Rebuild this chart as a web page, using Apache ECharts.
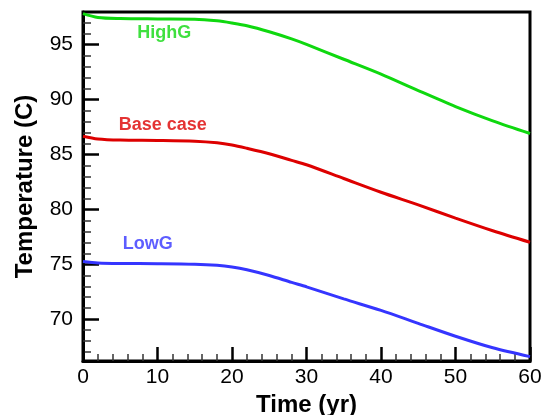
<!DOCTYPE html>
<html>
<head>
<meta charset="utf-8">
<script src="https://cdn.jsdelivr.net/npm/echarts@6/dist/echarts.min.js"></script>
<style>
  html, body { margin: 0; padding: 0; background: #fff; }
  #chart { width: 543px; height: 415px; }
</style>
</head>
<body>
<div id="chart"></div>
<script>
// Time axis (yr)
const years = [0, 2, 5, 10, 15, 18, 20, 22, 25, 28, 30, 35, 40, 45, 50, 55, 60];

// Temperature (C) for each case
const highG = [97.8, 97.45, 97.35, 97.32, 97.3, 97.15, 96.95, 96.7, 96.15, 95.5, 95.0, 93.65, 92.3, 90.8, 89.35, 88.05, 86.9];
const baseCase = [86.65, 86.4, 86.3, 86.27, 86.2, 86.05, 85.85, 85.55, 85.05, 84.45, 84.05, 82.8, 81.55, 80.4, 79.2, 78.05, 77.0];
const lowG = [75.25, 75.12, 75.07, 75.05, 75.0, 74.9, 74.75, 74.5, 73.98, 73.35, 72.95, 71.85, 70.8, 69.62, 68.45, 67.4, 66.6];

const seriesNames = ['HighG', 'Base case', 'LowG'];
const seriesColors = ['#0fd80f', '#dd0000', '#3535ff'];

// In-plot case labels, anchored in data coordinates
const labelYears = [10.9, 10.7, 8.7];
const labelTemps = [96.0, 87.65, 76.85];

// Axis ticks
const yMajorTicks = [70, 75, 80, 85, 90, 95];
const yMinorTicks = [67, 68, 69, 71, 72, 73, 74, 76, 77, 78, 79, 81, 82, 83, 84, 86, 87, 88, 89, 91, 92, 93, 94, 96, 97];
const yMin = 66.2, yMax = 97.95;

const pairs = arr => years.map((t, i) => [t, arr[i]]);
const curves = [highG, baseCase, lowG];

const lineSeries = curves.map((arr, i) => ({
  name: seriesNames[i],
  type: 'line',
  data: pairs(arr),
  showSymbol: false,
  smooth: 0.3,
  lineStyle: { color: seriesColors[i], width: 3 },
  z: 3
}));

const labelSeries = {
  type: 'scatter',
  symbolSize: 0,
  silent: true,
  data: seriesNames.map((n, i) => ({
    value: [labelYears[i], labelTemps[i]],
    name: n,
    label: { color: seriesColors[i] }
  })),
  label: {
    show: true,
    position: 'inside',
    formatter: p => p.name,
    fontFamily: 'Liberation Sans, Arial, sans-serif',
    fontWeight: 'bold',
    fontSize: 18
  },
  z: 4
};

const chart = echarts.init(document.getElementById('chart'));
chart.setOption({
  animation: false,
  backgroundColor: '#fff',
  grid: {
    left: 83, right: 13, top: 12, bottom: 54,
    outerBoundsMode: 'none',
    containLabel: false,
    show: true, borderColor: '#000', borderWidth: 3
  },
  xAxis: {
    type: 'value',
    min: 0, max: 60, interval: 10,
    name: 'Time (yr)',
    nameLocation: 'middle',
    nameGap: 28,
    nameTextStyle: { fontFamily: 'Liberation Sans, Arial, sans-serif', fontWeight: 'bold', fontSize: 24, color: '#000' },
    axisLine: { show: true, lineStyle: { color: '#000', width: 3 } },
    axisTick: { show: true, inside: true, length: 14, lineStyle: { color: '#000', width: 2.5 } },
    minorTick: { show: true, splitNumber: 5, length: 7, lineStyle: { color: '#333', width: 1.5 } },
    axisLabel: { margin: 6, fontFamily: 'Liberation Sans, Arial, sans-serif', fontSize: 21, color: '#000' },
    splitLine: { show: false }
  },
  yAxis: [
    {
      type: 'value',
      position: 'left',
      min: yMin, max: yMax,
      name: 'Temperature (C)',
      nameLocation: 'middle',
      nameGap: 46,
      nameTextStyle: { fontFamily: 'Liberation Sans, Arial, sans-serif', fontWeight: 'bold', fontSize: 24, color: '#000' },
      axisLine: { show: true, lineStyle: { color: '#000', width: 3 } },
      axisTick: { show: true, inside: true, length: 16, customValues: yMajorTicks, lineStyle: { color: '#000', width: 2.5 } },
      axisLabel: { margin: 10, customValues: yMajorTicks, fontFamily: 'Liberation Sans, Arial, sans-serif', fontSize: 21, color: '#000' },
      splitLine: { show: false }
    },
    {
      type: 'value',
      position: 'left',
      offset: 0,
      min: yMin, max: yMax,
      axisLine: { show: false },
      axisTick: { show: true, inside: true, length: 8, customValues: yMinorTicks, lineStyle: { color: '#333', width: 1.5 } },
      axisLabel: { show: false },
      splitLine: { show: false }
    }
  ],
  series: lineSeries.concat([labelSeries])
});
</script>
</body>
</html>
